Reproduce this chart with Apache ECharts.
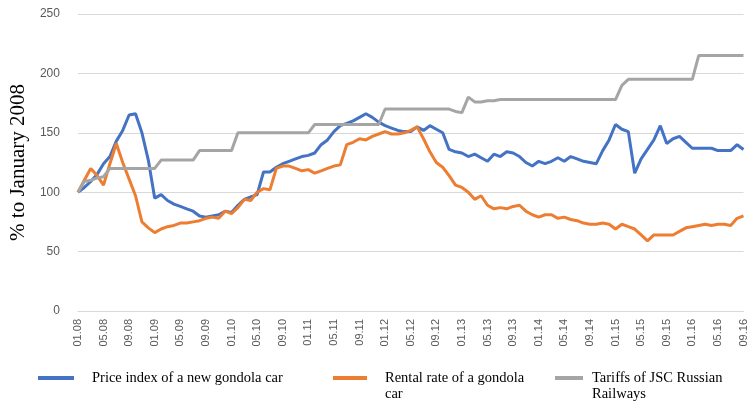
<!DOCTYPE html>
<html>
<head>
<meta charset="utf-8">
<script src="https://cdn.jsdelivr.net/npm/echarts@6/dist/echarts.min.js"></script>
<style>
html, body { margin: 0; padding: 0; background: #fff; }
#chart { width: 749px; height: 404px; }
</style>
</head>
<body>
<div id="chart"></div>
<script>
// monthly labels 01.08 ... 09.16
var months = [];
for (var y = 8; y <= 16; y++) {
    for (var m = 1; m <= 12; m++) {
        if (y === 16 && m > 9) break;
        months.push((m < 10 ? '0' + m : '' + m) + '.' + (y < 10 ? '0' + y : '' + y));
    }
}

var seriesNames = ['Price index of a new gondola car', 'Rental rate of a gondola car', 'Tariffs of JSC Russian Railways'];

var priceIndex = [
    100, 104, 109, 115, 124, 130, 143, 152, 165, 166,
    150, 127, 95, 98, 93, 90, 88, 86, 84, 80,
    79, 80, 81, 84, 83, 89, 94, 96, 98, 117,
    117, 121, 124, 126, 128, 130, 131, 133, 140, 144,
    151, 156, 158, 160, 163, 166, 163, 159, 156, 154,
    152, 151, 151, 155, 152, 156, 153, 150, 136, 134,
    133, 130, 132, 129, 126, 132, 130, 134, 133, 130,
    125, 122, 126, 124, 126, 129, 126, 130, 128, 126,
    125, 124, 135, 144, 157, 153, 151, 116, 128, 136,
    144, 156, 141, 145, 147, 142, 137, 137, 137, 137,
    135, 135, 135, 140, 136
];

var rentalRate = [
    100, 110, 120, 114, 106, 124, 141, 125, 111, 97,
    75, 70, 66, 69, 71, 72, 74, 74, 75, 76,
    78, 79, 78, 84, 82, 87, 94, 93, 100, 103,
    102, 120, 122, 122, 120, 118, 119, 116, 118, 120,
    122, 123, 140, 142, 145, 144, 147, 149, 151, 149,
    149, 150, 152, 155, 145, 134, 125, 121, 114, 106,
    104, 100, 94, 97, 89, 86, 87, 86, 88, 89,
    84, 81, 79, 81, 81, 78, 79, 77, 76, 74,
    73, 73, 74, 73, 69, 73, 71, 69, 64, 59,
    64, 64, 64, 64, 67, 70, 71, 72, 73, 72,
    73, 73, 72, 78, 80
];

var tariffs = [
    100, 109, 110, 112, 113, 120, 120, 120, 120, 120,
    120, 120, 120, 127, 127, 127, 127, 127, 127, 135,
    135, 135, 135, 135, 135, 150, 150, 150, 150, 150,
    150, 150, 150, 150, 150, 150, 150, 157, 157, 157,
    157, 157, 157, 157, 157, 157, 157, 157, 170, 170,
    170, 170, 170, 170, 170, 170, 170, 170, 170, 168,
    167, 180, 176, 176, 177, 177, 178, 178, 178, 178,
    178, 178, 178, 178, 178, 178, 178, 178, 178, 178,
    178, 178, 178, 178, 178, 190, 195, 195, 195, 195,
    195, 195, 195, 195, 195, 195, 195, 215, 215, 215,
    215, 215, 215, 215, 215
];

var colors = ['#4472C4', '#ED7D31', '#A5A5A5'];
var gridColor = '#d9d9d9';
var labelColor = '#595959';
var serif = '"Liberation Serif", "Times New Roman", serif';

var chart = echarts.init(document.getElementById('chart'));

var legendText = {
    fontFamily: serif,
    fontSize: 14.5,
    color: '#000',
    lineHeight: 16
};

var option = {
    animation: false,
    color: colors,
    grid: { left: 71, right: 5, top: 14, bottom: 93 },
    legend: [
        {
            data: [seriesNames[0]],
            left: 38, top: 370, padding: 0,
            icon: 'rect', itemWidth: 36, itemHeight: 4,
            textStyle: Object.assign({}, legendText, { padding: [0, 0, 0, 13] })
        },
        {
            // leading empty line keeps the first text line level with the icon
            data: [seriesNames[1]],
            left: 333, top: 354, padding: 0,
            icon: 'rect', itemWidth: 34, itemHeight: 4,
            formatter: function () { return '\nRental rate of a gondola\ncar'; },
            textStyle: Object.assign({}, legendText, { padding: [0, 0, 0, 13] })
        },
        {
            data: [seriesNames[2]],
            left: 555, top: 354, padding: 0,
            icon: 'rect', itemWidth: 28, itemHeight: 4,
            formatter: function () { return '\nTariffs of JSC Russian\nRailways'; },
            textStyle: Object.assign({}, legendText, { padding: [0, 0, 0, 4] })
        }
    ],
    xAxis: {
        type: 'category',
        boundaryGap: false,
        data: months,
        axisLine: { lineStyle: { color: gridColor } },
        axisTick: { show: false },
        axisLabel: {
            interval: 3,
            rotate: 90,
            margin: 8,
            color: labelColor,
            fontFamily: 'Liberation Sans, Arial, sans-serif',
            fontSize: 11
        }
    },
    yAxis: {
        type: 'value',
        min: 0, max: 250, interval: 50,
        name: '% to January 2008',
        nameLocation: 'middle',
        nameGap: 45,
        nameTextStyle: { fontFamily: serif, fontSize: 21, color: '#000' },
        axisLine: { show: false },
        axisTick: { show: false },
        axisLabel: {
            margin: 18,
            color: labelColor,
            fontFamily: 'Liberation Sans, Arial, sans-serif',
            fontSize: 12
        },
        splitLine: { lineStyle: { color: gridColor, width: 1 } }
    },
    series: [
        { name: seriesNames[0], type: 'line', data: priceIndex, symbol: 'none', lineStyle: { width: 3 } },
        { name: seriesNames[1], type: 'line', data: rentalRate, symbol: 'none', lineStyle: { width: 3 } },
        { name: seriesNames[2], type: 'line', data: tariffs, symbol: 'none', lineStyle: { width: 3 } }
    ]
};

chart.setOption(option);
</script>
</body>
</html>
